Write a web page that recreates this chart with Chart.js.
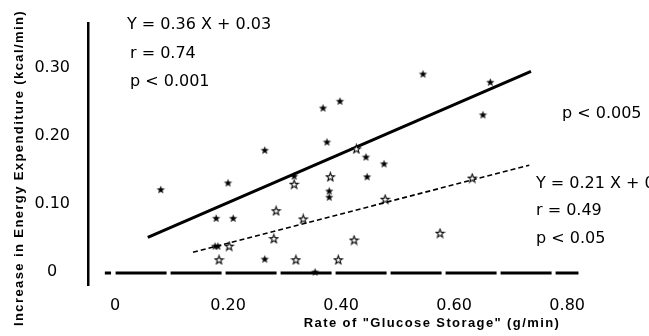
<!DOCTYPE html>
<html>

<head>
  <title>Glucose storage vs energy expenditure</title>
  <script src="https://cdn.jsdelivr.net/npm/chart.js"></script>
  <style>
    body { margin: 0; background: #fff; }
  </style>
</head>

<body>
  <canvas id="chart" width="649" height="336"></canvas>

  <script>
    // filled stars (x = g/min, y = kcal/min)
    var filledX = [0.081, 0.200, 0.265, 0.179, 0.209, 0.177, 0.182, 0.265, 0.545, 0.368, 0.398,
      0.375, 0.444, 0.476, 0.317, 0.446, 0.379, 0.379, 0.354, 0.664, 0.651];
    var filledY = [0.121, 0.131, 0.179, 0.079, 0.079, 0.038, 0.038, 0.019, 0.291, 0.241, 0.251,
      0.191, 0.169, 0.159, 0.141, 0.140, 0.119, 0.110, 0.000, 0.279, 0.231];

    // open stars
    var openX = [0.202, 0.184, 0.285, 0.281, 0.427, 0.317, 0.381, 0.478, 0.333, 0.423, 0.575,
      0.320, 0.395, 0.632];
    var openY = [0.038, 0.018, 0.090, 0.049, 0.181, 0.129, 0.140, 0.107, 0.078, 0.047, 0.057,
      0.018, 0.018, 0.138];

    // regression line ends
    var solidLineX = [0.058, 0.736];
    var solidLineY = [0.051, 0.295];
    var dashLineX = [0.138, 0.733];
    var dashLineY = [0.029, 0.157];

    var xTickValues = [0, 0.2, 0.4, 0.6, 0.8];
    var xTickLabels = ['0', '0.20', '0.40', '0.60', '0.80'];
    var yTickValues = [0, 0.1, 0.2, 0.3];
    var yTickLabels = ['0', '0.10', '0.20', '0.30'];

    var notes = [
      { text: 'Y = 0.36 X + 0.03', x: 127, y: 25 },
      { text: 'r = 0.74', x: 130, y: 54 },
      { text: 'p < 0.001', x: 130, y: 82 },
      { text: 'p < 0.005', x: 562, y: 114 },
      { text: 'Y = 0.21 X + 0', x: 536, y: 184 },
      { text: 'r = 0.49', x: 536, y: 211 },
      { text: 'p < 0.05', x: 536, y: 239 }
    ];

    function pts(xs, ys) {
      return xs.map(function (x, i) { return { x: x, y: ys[i] }; });
    }

    // star markers drawn on a small canvas
    function makeStar(filled) {
      var c = document.createElement('canvas');
      c.width = 11;
      c.height = 11;
      var g = c.getContext('2d');
      g.beginPath();
      for (var i = 0; i < 10; i++) {
        var r = i % 2 ? 1.8 : 4.4;
        var a = -Math.PI / 2 + i * Math.PI / 5;
        g.lineTo(5.5 + r * Math.cos(a), 5.8 + r * Math.sin(a));
      }
      g.closePath();
      if (filled) {
        g.fillStyle = '#000';
        g.fill();
      } else {
        g.fillStyle = '#fff';
        g.fill();
        g.lineWidth = 1.1;
        g.strokeStyle = '#000';
        g.stroke();
      }
      return c;
    }

    var extras = {
      id: 'extras',
      beforeDatasetsDraw: function (chart) {
        var c = chart.ctx;
        var xs = chart.scales.x, ys = chart.scales.y;
        var y0 = ys.getPixelForValue(0) + 1;
        c.save();
        c.strokeStyle = '#000';
        c.lineWidth = 3;
        c.beginPath();
        c.moveTo(xs.getPixelForValue(-0.018), y0);
        c.lineTo(xs.getPixelForValue(-0.007), y0);
        c.stroke();
        c.setLineDash([51, 4]);
        c.beginPath();
        c.moveTo(xs.getPixelForValue(0.001), y0);
        c.lineTo(xs.getPixelForValue(0.820), y0);
        c.stroke();
        c.restore();
      },
      afterDraw: function (chart) {
        var c = chart.ctx;
        c.save();
        c.fillStyle = '#000';
        c.font = '16px "DejaVu Sans"';
        c.textBaseline = 'middle';
        c.textAlign = 'left';
        notes.forEach(function (n) { c.fillText(n.text, n.x, n.y); });

        c.font = 'bold 13px "Liberation Sans"';
        c.letterSpacing = '1.4px';
        c.textAlign = 'center';
        c.fillText('Rate of "Glucose Storage" (g/min)', 432, 323);
        c.translate(19, 168);
        c.rotate(-Math.PI / 2);
        c.fillText('Increase in Energy Expenditure (kcal/min)', 0, 0);
        c.restore();
      }
    };

    Chart.defaults.font.family = '"DejaVu Sans"';
    Chart.defaults.color = '#000';

    var ctx = document.getElementById('chart').getContext('2d');
    var chart = new Chart(ctx, {
      type: 'scatter',
      data: {
        datasets: [{
          data: pts(openX, openY),
          pointStyle: makeStar(false),
          pointRadius: 5
        }, {
          data: pts(filledX, filledY),
          pointStyle: makeStar(true),
          pointRadius: 5
        }, {
          data: pts(solidLineX, solidLineY),
          showLine: true,
          borderColor: '#000',
          borderWidth: 3,
          pointRadius: 0
        }, {
          data: pts(dashLineX, dashLineY),
          showLine: true,
          borderColor: '#000',
          borderWidth: 1.6,
          borderDash: [5, 3],
          pointRadius: 0
        }]
      },
      options: {
        responsive: false,
        animation: false,
        layout: { padding: { left: 8, top: 23, right: 66, bottom: 0 } },
        plugins: {
          legend: { display: false },
          tooltip: { enabled: false }
        },
        scales: {
          x: {
            type: 'linear',
            min: -0.0478,
            max: 0.828,
            grid: { display: false },
            border: { display: false },
            afterFit: function (s) { s.height = 51; },
            afterBuildTicks: function (s) {
              s.ticks = xTickValues.map(function (v) { return { value: v }; });
            },
            ticks: {
              padding: 3,
              font: { size: 16 },
              callback: function (v, i) { return xTickLabels[i]; }
            }
          },
          y: {
            min: -0.0191,
            max: 0.366,
            grid: { display: false },
            border: { display: true, color: '#000', width: 2.5, dash: [30, 5] },
            afterFit: function (s) { s.width = 80; },
            afterBuildTicks: function (s) {
              s.ticks = yTickValues.map(function (v) { return { value: v }; });
            },
            ticks: {
              padding: 10,
              crossAlign: 'center',
              font: { size: 16 },
              callback: function (v, i) { return yTickLabels[i]; }
            }
          }
        }
      },
      plugins: [extras]
    });
  </script>
</body>

</html>
